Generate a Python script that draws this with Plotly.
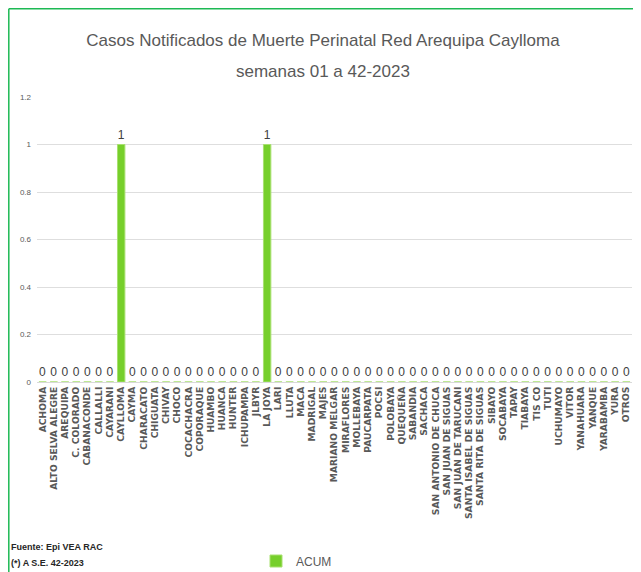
import plotly.graph_objects as go

categories = ["ACHOMA", "ALTO SELVA ALEGRE", "AREQUIPA", "C. COLORADO", "CABANACONDE",
              "CALLALLI", "CAYARANI", "CAYLLOMA", "CAYMA", "CHARACATO", "CHIGUATA",
              "CHIVAY", "CHOCO", "COCACHACRA", "COPORAQUE", "HUAMBO", "HUANCA", "HUNTER",
              "ICHUPAMPA", "JLBYR", "LA JOYA", "LARI", "LLUTA", "MACA", "MADRIGAL", "MAJES",
              "MARIANO MELGAR", "MIRAFLORES", "MOLLEBAYA", "PAUCARPATA", "POCSI", "POLOBAYA",
              "QUEQUEÑA", "SABANDIA", "SACHACA", "SAN ANTONIO DE CHUCA", "SAN JUAN DE SIGUAS",
              "SAN JUAN DE TARUCANI", "SANTA ISABEL DE SIGUAS", "SANTA RITA DE SIGUAS",
              "SIBAYO", "SOCABAYA", "TAPAY", "TIABAYA", "TIS CO", "TUTI", "UCHUMAYO", "VITOR",
              "YANAHUARA", "YANQUE", "YARABAMBA", "YURA", "OTROS"]
acum = [0, 0, 0, 0, 0, 0, 0, 1, 0, 0, 0, 0, 0, 0, 0, 0, 0, 0, 0, 0, 1, 0, 0, 0, 0, 0,
        0, 0, 0, 0, 0, 0, 0, 0, 0, 0, 0, 0, 0, 0, 0, 0, 0, 0, 0, 0, 0, 0, 0, 0, 0, 0, 0]
y_ticks = [0, 0.2, 0.4, 0.6, 0.8, 1, 1.2]
y_tick_labels = ["0", "0.2", "0.4", "0.6", "0.8", "1", "1.2"]
title_line1 = "Casos Notificados de Muerte Perinatal Red Arequipa Caylloma"
title_line2 = "semanas 01 a 42-2023"

SANS = "Liberation Sans, Arial, sans-serif"
GRAY = "#595959"

# the page body has an 8px margin, so the figure starts at screen (8, 8)
OFF = 8
W, H = 641 - OFF, 572 - OFF
L, R = 37 - OFF, W - (632 - OFF)
T, B = 97 - OFF, H - (382 - OFF)
pw, ph = W - L - R, H - T - B

def px_x(sx):
    return (sx - OFF - L) / pw

def px_y(sy):
    return (H - B - (sy - OFF)) / ph

fig = go.Figure()
fig.add_trace(go.Bar(
    x=categories, y=acum, name="ACUM",
    marker=dict(color="#76CF2B", line=dict(color="#A8E070", width=1)),
    text=acum, texttemplate="%{y}", textposition="outside",
    textfont=dict(family=SANS, size=12, color="#404040"),
    cliponaxis=False,
))

fig.update_layout(
    width=W, height=H,
    margin=dict(l=L, r=R, t=T, b=B, autoexpand=False),
    paper_bgcolor="white", plot_bgcolor="white",
    bargap=0.34,
    title=dict(
        text=title_line1,
        x=px_x(323), xref="paper", xanchor="center",
        y=1 - (40 - OFF) / H, yref="container", yanchor="middle",
        font=dict(family=SANS, size=17, color=GRAY),
        automargin=False,
    ),
    xaxis=dict(
        type="category", tickmode="array", tickvals=categories, ticktext=categories,
        tickangle=-90, tickfont=dict(family="DejaVu Sans, Verdana, sans-serif", size=9.2,
                                      color=GRAY, weight="bold"),
        showgrid=False, showline=True, linecolor="#D9D9D9", linewidth=1,
        ticks="", fixedrange=True, automargin=False,
    ),
    yaxis=dict(
        range=[0, 1.2], tickvals=y_ticks, ticktext=y_tick_labels,
        tickfont=dict(family=SANS, size=8, color=GRAY),
        showgrid=True, gridcolor="#DEDEDE", gridwidth=1, zeroline=False,
        showline=False, ticks="", ticklabelstandoff=5, automargin=False,
    ),
    showlegend=True,
    legend=dict(
        x=px_x(256), xanchor="left", y=px_y(561), yanchor="middle",
        font=dict(family=SANS, size=12, color=GRAY),
        itemwidth=30, bgcolor="rgba(0,0,0,0)",
        itemclick=False,
    ),
    shapes=[
        dict(type="line", xref="paper", yref="paper",
             x0=px_x(OFF + 0.8), x1=px_x(641), y0=px_y(OFF + 0.8), y1=px_y(OFF + 0.8),
             line=dict(color="#1DB954", width=1.5)),
        dict(type="line", xref="paper", yref="paper",
             x0=px_x(OFF + 0.8), x1=px_x(OFF + 0.8), y0=px_y(OFF + 0.8), y1=px_y(572),
             line=dict(color="#1DB954", width=1.5)),
    ],
    annotations=[
        dict(text=title_line2, xref="paper", yref="paper",
             x=px_x(323), y=px_y(72), xanchor="center", yanchor="middle", showarrow=False,
             font=dict(family=SANS, size=17, color=GRAY)),
        dict(text="<b>Fuente: Epi VEA RAC</b>", xref="paper", yref="paper",
             x=px_x(9), y=px_y(547), xanchor="left", yanchor="middle", showarrow=False,
             font=dict(family=SANS, size=9, color="#262626")),
        dict(text="<b>(*) A S.E. 42-2023</b>", xref="paper", yref="paper",
             x=px_x(9), y=px_y(563), xanchor="left", yanchor="middle", showarrow=False,
             font=dict(family=SANS, size=9, color="#262626")),
    ],
)

fig.write_html("out.html")
